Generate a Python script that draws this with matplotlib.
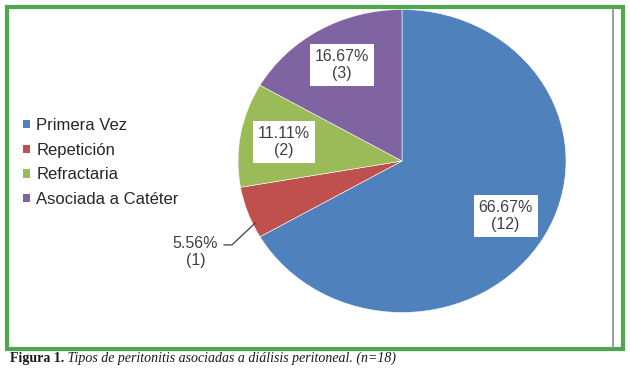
import numpy as np
import matplotlib.pyplot as plt
from matplotlib.patches import Patch, Rectangle
from matplotlib.lines import Line2D

# Tipos de peritonitis (n=18)
categorias = ["Primera Vez", "Repetición", "Refractaria", "Asociada a Catéter"]
casos = [12, 1, 2, 3]
colores = ["#4f81bd", "#c0504d", "#9bbb59", "#8064a2"]
caption_bold = "Figura 1."
caption_italic = " Tipos de peritonitis asociadas a diálisis peritoneal. (n=18)"

W, H = 630, 368
fig = plt.figure(figsize=(W / 100, H / 100), dpi=100)
fig.patch.set_facecolor("white")

# pie axes placed in pixel units (slightly wider than tall, like the source)
cx, cy, rx, ry = 402, H - 161, 164, 151.5
ax = fig.add_axes([(cx - rx) / W, (cy - ry) / H, 2 * rx / W, 2 * ry / H])
wedges, _ = ax.pie(casos, colors=colores, startangle=90, counterclock=False,
                   wedgeprops=dict(edgecolor="white", linewidth=0.4))
ax.set_aspect("auto")
ax.set_xlim(-1, 1)
ax.set_ylim(-1, 1)
ax.axis("off")

total = sum(casos)
for i, (w, n) in enumerate(zip(wedges, casos)):
    mid = np.deg2rad((w.theta1 + w.theta2) / 2)
    txt = f"{100 * n / total:.2f}%\n({n})"
    if i == 1:
        # small slice: label outside with leader line
        tx, ty = -1.26, -0.6
        ax.text(tx, ty, txt, ha="center", va="center", fontsize=11.5,
                color="#404040", family="Liberation Sans", linespacing=1.2)
        ax.plot([-1.085, -1.037, 0.985 * np.cos(mid + 0.08)],
                [-0.554, -0.554, 0.985 * np.sin(mid + 0.08)],
                color="#404040", lw=0.9, clip_on=False)
    else:
        r = 0.73
        ax.text(r * np.cos(mid), r * np.sin(mid), txt, ha="center", va="center",
                fontsize=11.5, color="#404040", family="Liberation Sans",
                linespacing=1.2,
                bbox=dict(boxstyle="square,pad=0.3", fc="white", ec="none"))

handles = [Patch(facecolor=c, edgecolor="none") for c in colores]
fig.legend(handles, categorias, loc="upper left", bbox_to_anchor=(8 / W, 1 - 103 / H),
           frameon=False, handlelength=0.4, handleheight=0.4, handletextpad=0.4,
           labelspacing=0.58, prop=dict(family="Liberation Sans", size=12),
           labelcolor="#262626")

# green frame and gray rule
fig.add_artist(Rectangle((7 / W, 1 - 349 / H), 616 / W, 342 / H, transform=fig.transFigure,
                         fill=False, edgecolor="#4ea64e", linewidth=3))
fig.add_artist(Line2D([613 / W, 613 / W], [1 - 348 / H, 1 - 9 / H], transform=fig.transFigure,
                      color="#8c8c8c", linewidth=1.2))

# caption
t1 = fig.text(10 / W, 6 / H, caption_bold, fontsize=10, fontweight="bold",
              family="Liberation Serif", color="#1a1a1a", va="baseline")
fig.canvas.draw()
bb = t1.get_window_extent(fig.canvas.get_renderer())
fig.text(bb.x1 / W, 6 / H, caption_italic, fontsize=10, style="italic",
         family="Liberation Serif", color="#1a1a1a", va="baseline")

fig.savefig("out.png", dpi=100)
